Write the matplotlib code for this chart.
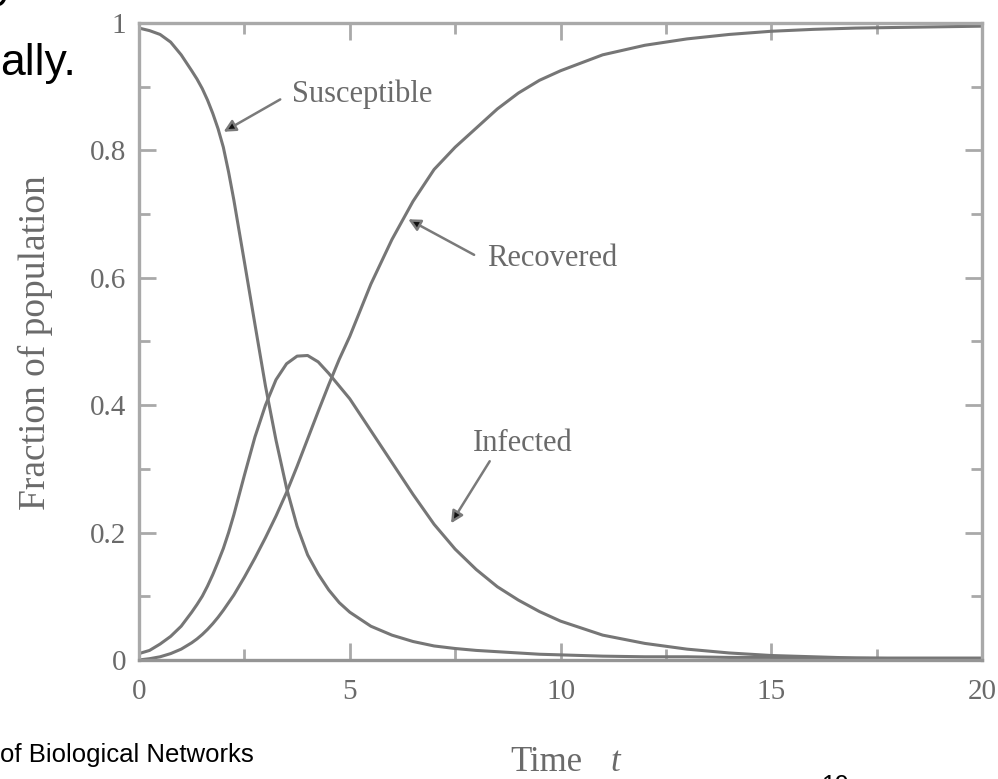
from __future__ import annotations

import matplotlib

matplotlib.use("Agg")
import matplotlib.pyplot as plt
from matplotlib.ticker import FixedLocator, MultipleLocator

# values
TIME = [0, 0.25, 0.5, 0.75, 1, 1.25, 1.375, 1.5, 1.625, 1.75, 1.875, 2, 2.125,
        2.25, 2.5, 2.75, 3, 3.25, 3.5, 3.75, 4, 4.25, 4.5, 4.75, 5, 5.5, 6,
        6.5, 7, 7.5, 8, 8.5, 9, 9.5, 10, 11, 12, 13, 14, 15, 16, 17, 18, 19, 20]
SUSCEPTIBLE = [0.992, 0.988, 0.982, 0.97, 0.95, 0.925, 0.912, 0.897, 0.879,
               0.858, 0.834, 0.805, 0.766, 0.722, 0.625, 0.527, 0.43, 0.345,
               0.27, 0.21, 0.165, 0.135, 0.11, 0.09, 0.075, 0.053, 0.039,
               0.029, 0.022, 0.018, 0.015, 0.013, 0.011, 0.009, 0.008, 0.006,
               0.005, 0.005, 0.004, 0.004, 0.003, 0.003, 0.003, 0.003, 0.003]
INFECTED = [0.01, 0.015, 0.025, 0.037, 0.053, 0.075, 0.087, 0.1, 0.116, 0.134,
            0.154, 0.175, 0.2, 0.228, 0.29, 0.35, 0.4, 0.44, 0.465, 0.477,
            0.478, 0.468, 0.45, 0.43, 0.41, 0.36, 0.31, 0.26, 0.213, 0.174,
            0.142, 0.115, 0.094, 0.076, 0.061, 0.039, 0.026, 0.017, 0.011,
            0.007, 0.005, 0.003, 0.002, 0.0015, 0.001]
RECOVERED = [0.0, 0.002, 0.005, 0.01, 0.017, 0.027, 0.033, 0.04, 0.048, 0.057,
             0.067, 0.078, 0.09, 0.102, 0.13, 0.16, 0.192, 0.226, 0.263,
             0.304, 0.347, 0.39, 0.432, 0.472, 0.508, 0.59, 0.66, 0.72, 0.77,
             0.805, 0.835, 0.865, 0.89, 0.91, 0.925, 0.95, 0.965, 0.975,
             0.982, 0.987, 0.99, 0.992, 0.993, 0.994, 0.995]

X_TICKS = [0, 5, 10, 15, 20]
Y_TICKS = [0, 0.2, 0.4, 0.6, 0.8, 1]
Y_TICK_LABELS = ["0", "0.2", "0.4", "0.6", "0.8", "1"]

# (label, arrow tip, arrow tail, text anchor) in data units
LABELS = [
    ("Susceptible", (1.92, 0.826), (3.35, 0.88), (3.62, 0.876)),
    ("Recovered", (6.3, 0.695), (7.95, 0.636), (8.25, 0.618)),
    ("Infected", (7.35, 0.209), (8.32, 0.312), (7.91, 0.328)),
]

SERIF = ["Liberation Serif", "DejaVu Serif"]
SANS = ["Liberation Sans", "DejaVu Sans"]
CURVE = "#767676"
SPINE = "#a9a9a9"
TEXT = "#6a6a6a"


def _style_axes(ax: plt.Axes) -> None:
    ax.set_xlim(0, 20)
    ax.set_ylim(0, 1)
    for spine in ax.spines.values():
        spine.set_color(SPINE)
        spine.set_linewidth(2.4)
    ax.spines["bottom"].set_color("#959595")

    ax.xaxis.set_major_locator(FixedLocator(X_TICKS))
    ax.xaxis.set_minor_locator(MultipleLocator(2.5))
    ax.set_yticks(Y_TICKS)
    ax.set_yticklabels(Y_TICK_LABELS)
    ax.yaxis.set_minor_locator(MultipleLocator(0.1))
    ax.tick_params(which="both", direction="in", top=True, right=True,
                   color=SPINE, width=2.0, labelcolor=TEXT, labelsize=21)
    ax.tick_params(which="major", length=12)
    ax.tick_params(which="minor", length=8)
    ax.tick_params(axis="x", pad=14)
    ax.tick_params(axis="y", pad=9)
    for lab in ax.get_xticklabels() + ax.get_yticklabels():
        lab.set_fontfamily(SERIF)


def main() -> None:
    fig = plt.figure(figsize=(9.98, 7.79), dpi=100)
    ax = fig.add_axes([0.1393, 0.1528, 0.8447, 0.8177])

    for series in (SUSCEPTIBLE, INFECTED, RECOVERED):
        ax.plot(TIME, series, color=CURVE, lw=2.2, solid_capstyle="round",
                solid_joinstyle="round")

    _style_axes(ax)

    for text, tip, tail, anchor in LABELS:
        ax.annotate("", xy=tip, xytext=tail,
                    arrowprops=dict(arrowstyle="-|>", color="#7a7a7a", fc="#111111",
                                    lw=1.8, mutation_scale=18, shrinkA=0, shrinkB=3))
        ax.text(anchor[0], anchor[1], text, fontsize=22, family=SERIF,
                color=TEXT, ha="left", va="baseline")

    fig.text(0.035, 1 - 343 / 779, "Fraction of population", rotation=90,
             fontsize=27, family=SERIF, color=TEXT, ha="center", va="center")
    fig.text(0.511, 0.01, "Time", fontsize=25, family=SERIF, color=TEXT,
             ha="left", va="baseline")
    fig.text(0.612, 0.01, "t", fontsize=25, family=SERIF, style="italic",
             color=TEXT, ha="left", va="baseline")

    # slide text around the pasted figure
    fig.text(0.0, 1 - 75 / 779, "ally.", fontsize=32, family=SANS, color="black",
             ha="left", va="baseline")
    fig.text(-0.006, 1.004, "y", fontsize=32, family=SANS, color="black",
             ha="left", va="baseline")
    fig.text(0.0, 1 - 762 / 779, "of Biological Networks", fontsize=18.5,
             family=SANS, color="black", ha="left", va="baseline")
    fig.text(0.823, -0.018, "19", fontsize=18, family=SANS, color="black",
             ha="left", va="baseline")

    fig.savefig("out.png", dpi=100)
    plt.close(fig)


if __name__ == "__main__":
    main()
